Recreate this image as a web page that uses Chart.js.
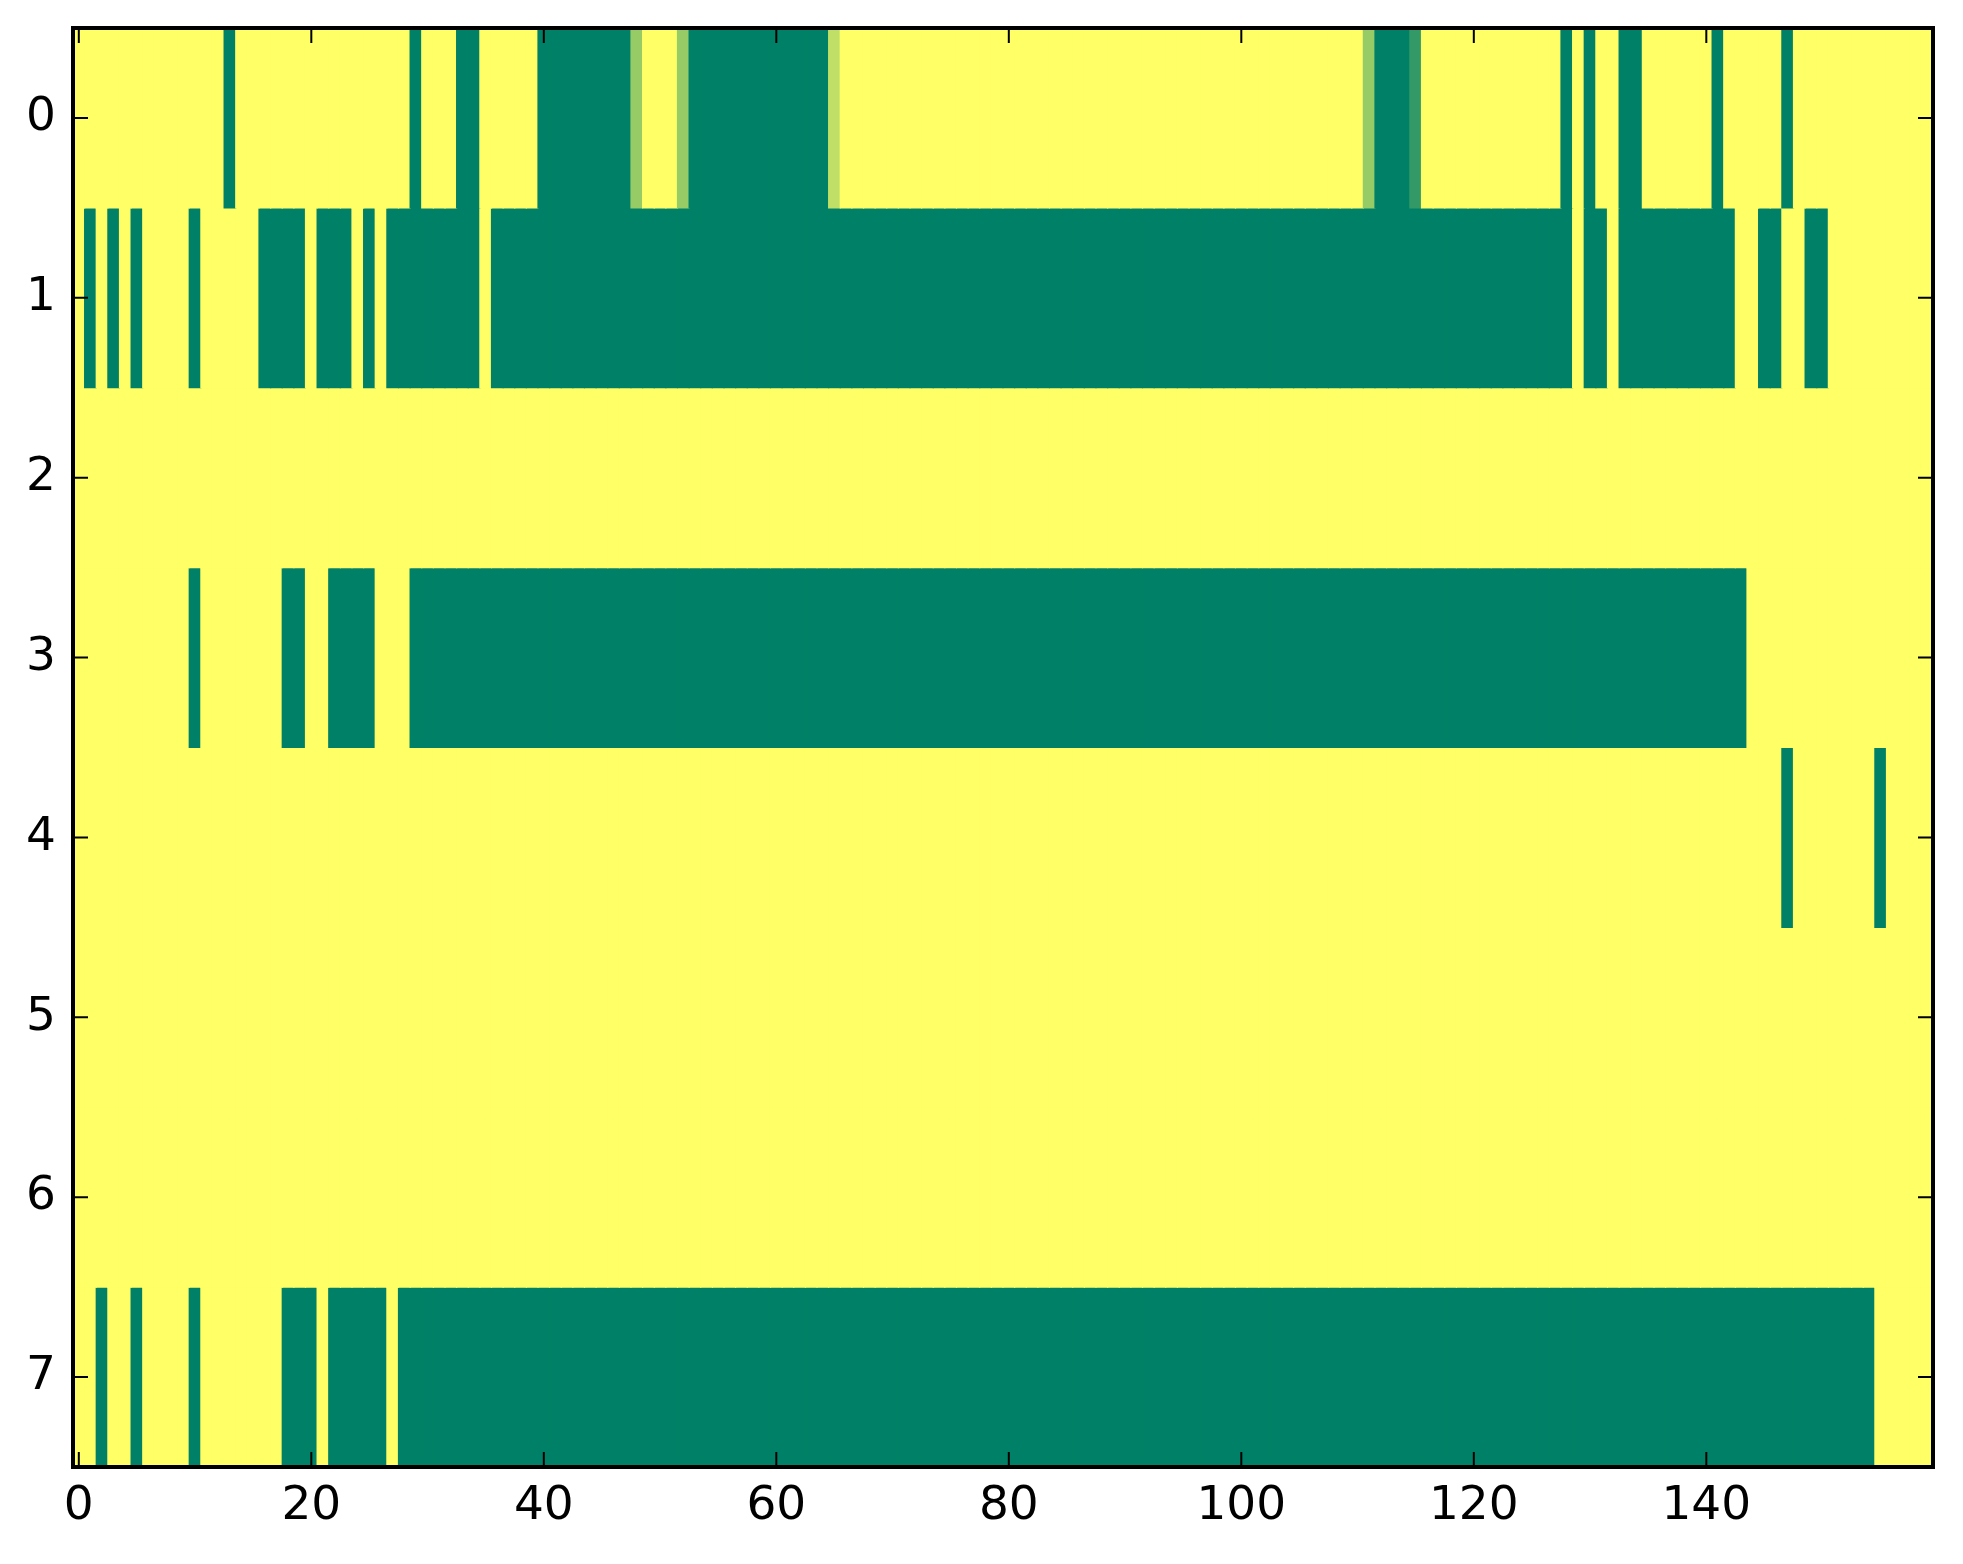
<!DOCTYPE html>
<html>
<head>
<meta charset="utf-8">
<script src="https://cdn.jsdelivr.net/npm/chart.js@4.4.1/dist/chart.umd.min.js"></script>
<style>
  body { margin: 0; background: #fff; }
  #wrap { width: 1963px; height: 1564px; }
</style>
</head>
<body>
<div id="wrap"><canvas id="grafico"></canvas></div>
<script>
// Ticks dos eixos
const xTicks = [0, 20, 40, 60, 80, 100, 120, 140];
const yTicks = [0, 1, 2, 3, 4, 5, 6, 7];

// Valores de cada linha (160 colunas, 1 = amarelo, 0 = verde)
const row0 = [
  1,1,1,1,1,1,1,1,1,1, 1,1,1,0,1,1,1,1,1,1,
  1,1,1,1,1,1,1,1,1,0, 1,1,1,0,0,1,1,1,1,1,
  0,0,0,0,0,0,0,0,0.59,1, 1,1,0.59,0,0,0,0,0,0,0,
  0,0,0,0,0,0.75,1,1,1,1, 1,1,1,1,1,1,1,1,1,1,
  1,1,1,1,1,1,1,1,1,1, 1,1,1,1,1,1,1,1,1,1,
  1,1,1,1,1,1,1,1,1,1, 1,0.59,0,0,0,0.2,1,1,1,1,
  1,1,1,1,1,1,1,1,0,1, 0,1,1,0,0,1,1,1,1,1,
  1,0,1,1,1,1,1,0,1,1, 1,1,1,1,1,1,1,1,1,1
];
const row1 = [
  1,0,1,0,1,0,1,1,1,1, 0,1,1,1,1,1,0,0,0,0,
  1,0,0,0,1,0,1,0,0,0, 0,0,0,0,0,1,0,0,0,0,
  0,0,0,0,0,0,0,0,0,0, 0,0,0,0,0,0,0,0,0,0,
  0,0,0,0,0,0,0,0,0,0, 0,0,0,0,0,0,0,0,0,0,
  0,0,0,0,0,0,0,0,0,0, 0,0,0,0,0,0,0,0,0,0,
  0,0,0,0,0,0,0,0,0,0, 0,0,0,0,0,0,0,0,0,0,
  0,0,0,0,0,0,0,0,0,1, 0,0,1,0,0,0,0,0,0,0,
  0,0,0,1,1,0,0,1,1,0, 0,1,1,1,1,1,1,1,1,1
];
const row2 = [
  1,1,1,1,1,1,1,1,1,1, 1,1,1,1,1,1,1,1,1,1,
  1,1,1,1,1,1,1,1,1,1, 1,1,1,1,1,1,1,1,1,1,
  1,1,1,1,1,1,1,1,1,1, 1,1,1,1,1,1,1,1,1,1,
  1,1,1,1,1,1,1,1,1,1, 1,1,1,1,1,1,1,1,1,1,
  1,1,1,1,1,1,1,1,1,1, 1,1,1,1,1,1,1,1,1,1,
  1,1,1,1,1,1,1,1,1,1, 1,1,1,1,1,1,1,1,1,1,
  1,1,1,1,1,1,1,1,1,1, 1,1,1,1,1,1,1,1,1,1,
  1,1,1,1,1,1,1,1,1,1, 1,1,1,1,1,1,1,1,1,1
];
const row3 = [
  1,1,1,1,1,1,1,1,1,1, 0,1,1,1,1,1,1,1,0,0,
  1,1,0,0,0,0,1,1,1,0, 0,0,0,0,0,0,0,0,0,0,
  0,0,0,0,0,0,0,0,0,0, 0,0,0,0,0,0,0,0,0,0,
  0,0,0,0,0,0,0,0,0,0, 0,0,0,0,0,0,0,0,0,0,
  0,0,0,0,0,0,0,0,0,0, 0,0,0,0,0,0,0,0,0,0,
  0,0,0,0,0,0,0,0,0,0, 0,0,0,0,0,0,0,0,0,0,
  0,0,0,0,0,0,0,0,0,0, 0,0,0,0,0,0,0,0,0,0,
  0,0,0,0,1,1,1,1,1,1, 1,1,1,1,1,1,1,1,1,1
];
const row4 = [
  1,1,1,1,1,1,1,1,1,1, 1,1,1,1,1,1,1,1,1,1,
  1,1,1,1,1,1,1,1,1,1, 1,1,1,1,1,1,1,1,1,1,
  1,1,1,1,1,1,1,1,1,1, 1,1,1,1,1,1,1,1,1,1,
  1,1,1,1,1,1,1,1,1,1, 1,1,1,1,1,1,1,1,1,1,
  1,1,1,1,1,1,1,1,1,1, 1,1,1,1,1,1,1,1,1,1,
  1,1,1,1,1,1,1,1,1,1, 1,1,1,1,1,1,1,1,1,1,
  1,1,1,1,1,1,1,1,1,1, 1,1,1,1,1,1,1,1,1,1,
  1,1,1,1,1,1,1,0,1,1, 1,1,1,1,1,0,1,1,1,1
];
const row5 = [
  1,1,1,1,1,1,1,1,1,1, 1,1,1,1,1,1,1,1,1,1,
  1,1,1,1,1,1,1,1,1,1, 1,1,1,1,1,1,1,1,1,1,
  1,1,1,1,1,1,1,1,1,1, 1,1,1,1,1,1,1,1,1,1,
  1,1,1,1,1,1,1,1,1,1, 1,1,1,1,1,1,1,1,1,1,
  1,1,1,1,1,1,1,1,1,1, 1,1,1,1,1,1,1,1,1,1,
  1,1,1,1,1,1,1,1,1,1, 1,1,1,1,1,1,1,1,1,1,
  1,1,1,1,1,1,1,1,1,1, 1,1,1,1,1,1,1,1,1,1,
  1,1,1,1,1,1,1,1,1,1, 1,1,1,1,1,1,1,1,1,1
];
const row6 = [
  1,1,1,1,1,1,1,1,1,1, 1,1,1,1,1,1,1,1,1,1,
  1,1,1,1,1,1,1,1,1,1, 1,1,1,1,1,1,1,1,1,1,
  1,1,1,1,1,1,1,1,1,1, 1,1,1,1,1,1,1,1,1,1,
  1,1,1,1,1,1,1,1,1,1, 1,1,1,1,1,1,1,1,1,1,
  1,1,1,1,1,1,1,1,1,1, 1,1,1,1,1,1,1,1,1,1,
  1,1,1,1,1,1,1,1,1,1, 1,1,1,1,1,1,1,1,1,1,
  1,1,1,1,1,1,1,1,1,1, 1,1,1,1,1,1,1,1,1,1,
  1,1,1,1,1,1,1,1,1,1, 1,1,1,1,1,1,1,1,1,1
];
const row7 = [
  1,1,0,1,1,0,1,1,1,1, 0,1,1,1,1,1,1,1,0,0,
  0,1,0,0,0,0,0,1,0,0, 0,0,0,0,0,0,0,0,0,0,
  0,0,0,0,0,0,0,0,0,0, 0,0,0,0,0,0,0,0,0,0,
  0,0,0,0,0,0,0,0,0,0, 0,0,0,0,0,0,0,0,0,0,
  0,0,0,0,0,0,0,0,0,0, 0,0,0,0,0,0,0,0,0,0,
  0,0,0,0,0,0,0,0,0,0, 0,0,0,0,0,0,0,0,0,0,
  0,0,0,0,0,0,0,0,0,0, 0,0,0,0,0,0,0,0,0,0,
  0,0,0,0,0,0,0,0,0,0, 0,0,0,0,0,1,1,1,1,1
];

const rows = [row0, row1, row2, row3, row4, row5, row6, row7];

// Mapa de cores "summer" (verde -> amarelo)
function summer(v) {
    const r = Math.round(255 * v);
    const g = Math.round(255 * (0.5 + 0.5 * v));
    return `rgb(${r}, ${g}, 102)`;
}

// Cada linha vira um dataset de barras flutuantes
const datasets = rows.map((vals, r) => ({
    data: vals.map((v, c) => ({ x: c, y: [r - 0.5, r + 0.5] })),
    backgroundColor: vals.map(summer),
    borderWidth: 0,
    inflateAmount: 0.6,
    grouped: false,
    barPercentage: 1,
    categoryPercentage: 1
}));

// Moldura e ticks para dentro (estilo matplotlib)
const molduraPlugin = {
    id: 'moldura',
    afterDraw(chart) {
        const { ctx, chartArea: a, scales } = chart;
        const len = 15;
        ctx.save();
        ctx.strokeStyle = '#000';
        ctx.lineWidth = 2;
        ctx.beginPath();
        scales.x.ticks.forEach(t => {
            const px = scales.x.getPixelForValue(t.value);
            ctx.moveTo(px, a.bottom); ctx.lineTo(px, a.bottom - len);
            ctx.moveTo(px, a.top); ctx.lineTo(px, a.top + len);
        });
        scales.y.ticks.forEach(t => {
            const py = scales.y.getPixelForValue(t.value);
            ctx.moveTo(a.left, py); ctx.lineTo(a.left + len, py);
            ctx.moveTo(a.right, py); ctx.lineTo(a.right - len, py);
        });
        ctx.stroke();
        ctx.lineWidth = 4;
        ctx.strokeRect(a.left, a.top, a.right - a.left, a.bottom - a.top);
        ctx.restore();
    }
};

const fonte = { family: 'DejaVu Sans', size: 47 };

new Chart(document.getElementById('grafico').getContext('2d'), {
    type: 'bar',
    data: { datasets },
    options: {
        responsive: true,
        maintainAspectRatio: false,
        animation: false,
        layout: { padding: { top: 28, right: 30, left: 0, bottom: 0 } },
        plugins: {
            legend: { display: false },
            tooltip: { enabled: false }
        },
        scales: {
            x: {
                type: 'linear',
                offset: false,
                min: -0.5,
                max: 159.5,
                grid: { display: false, drawTicks: false, offset: false },
                border: { display: false },
                afterBuildTicks: s => { s.ticks = xTicks.map(v => ({ value: v })); },
                afterFit: s => { s.height = 97; s.paddingLeft = 0; s.paddingRight = 0; },
                ticks: {
                    font: fonte,
                    color: '#000',
                    padding: 12,
                    maxRotation: 0,
                    callback: v => String(v)
                }
            },
            y: {
                type: 'linear',
                min: -0.5,
                max: 7.5,
                reverse: true,
                grid: { display: false, drawTicks: false },
                border: { display: false },
                afterBuildTicks: s => { s.ticks = yTicks.map(v => ({ value: v })); },
                afterFit: s => { s.width = 73; s.paddingTop = 0; s.paddingBottom = 0; },
                ticks: {
                    font: fonte,
                    color: '#000',
                    padding: 17,
                    callback: v => String(v)
                }
            }
        }
    },
    plugins: [molduraPlugin]
});
</script>
</body>
</html>
